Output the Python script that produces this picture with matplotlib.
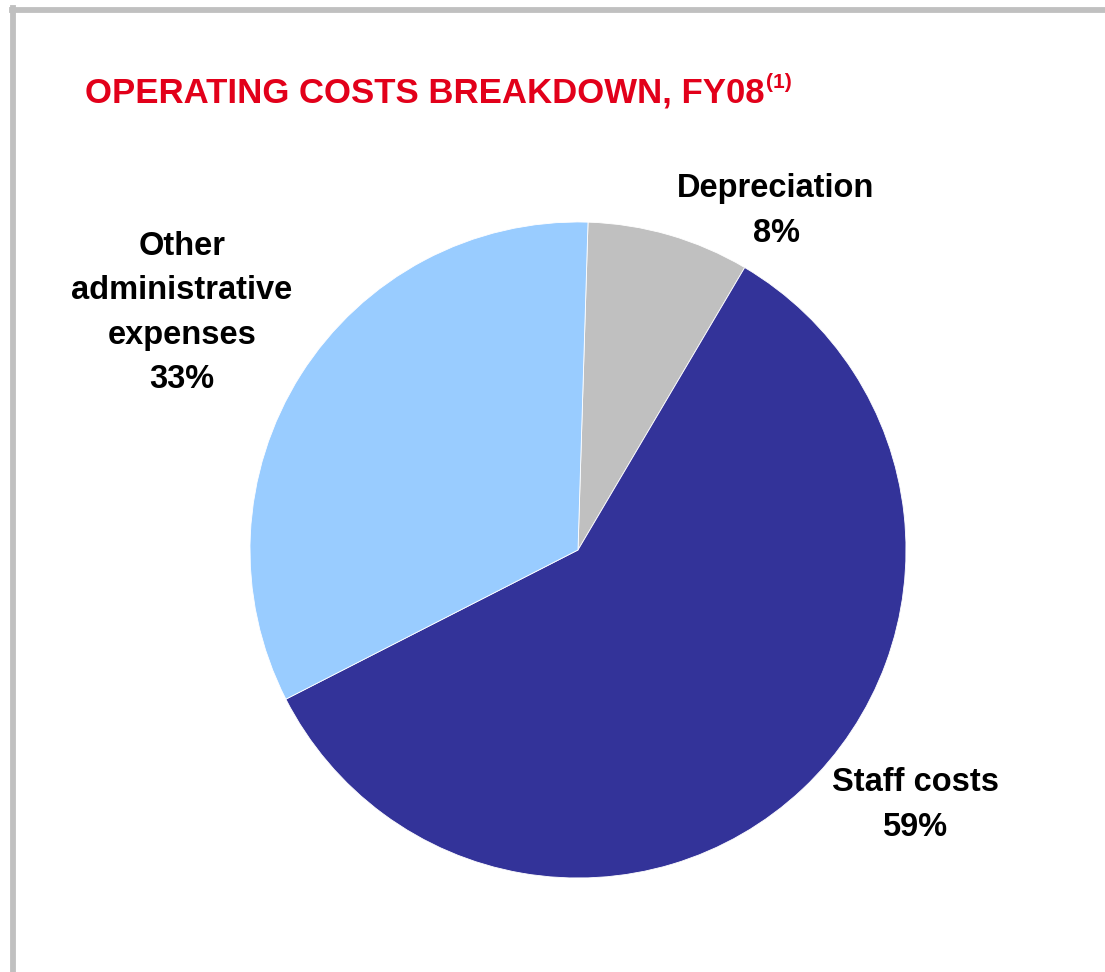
import matplotlib
matplotlib.use('Agg')
import matplotlib.pyplot as plt
from matplotlib.lines import Line2D

plt.rcParams['font.family'] = ['Liberation Sans', 'DejaVu Sans']

# operating cost split, FY08 (percent)
labels = ['Depreciation', 'Staff costs', 'Other\nadministrative\nexpenses']
values = [8, 59, 33]
colors = ['#C0C0C0', '#333399', '#99CCFF']

W, H = 1105, 972
fig = plt.figure(figsize=(W / 100, H / 100), dpi=100)
ax = fig.add_axes([0, 0, 1, 1])

# grey frame on the top and left
fig.add_artist(Line2D([12 / W, 1], [1 - 10.5 / H, 1 - 10.5 / H], color='#C0C0C0', lw=4.2))
fig.add_artist(Line2D([12.5 / W, 12.5 / W], [0, 1 - 8 / H], color='#C0C0C0', lw=4.2))

ax.pie(values, colors=colors, startangle=88.25, counterclock=False,
       center=(578, H - 550), radius=328, frame=True,
       wedgeprops=dict(edgecolor='white', linewidth=0.6))
ax.set_xlim(0, W)
ax.set_ylim(0, H)
ax.set_aspect('equal')
ax.axis('off')

title = ax.text(85, H - 103, 'OPERATING COSTS BREAKDOWN, FY08', color='#E2001A',
                fontsize=25, fontweight='bold', ha='left', va='baseline')
ax.annotate('(1)', xy=(1, 1), xycoords=title, xytext=(1, 3), textcoords='offset points',
            color='#E2001A', fontsize=15, fontweight='bold', ha='left', va='top')

label_pos = [(776, 211), (915, 805), (182, 313)]
for lab, v, (x, y) in zip(labels, values, label_pos):
    ax.text(x, H - y, '%s\n%d%%' % (lab, v), ha='center', va='center',
            fontsize=23.5, fontweight='bold', color='black', linespacing=1.55)

fig.savefig('out.png', dpi=100)
